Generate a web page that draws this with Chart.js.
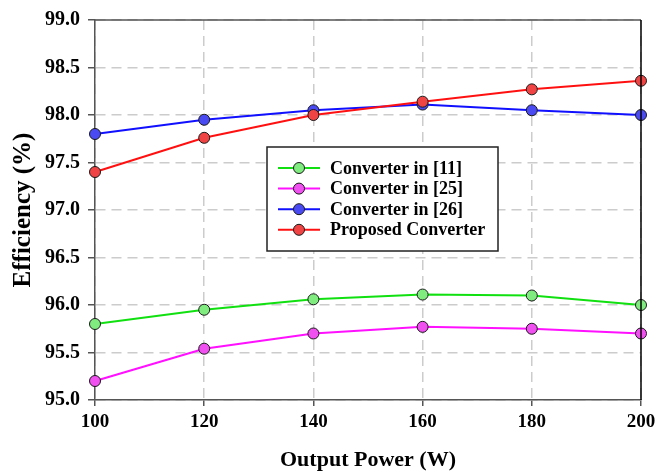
<!DOCTYPE html>
<html>
<head>
<meta charset="utf-8">
<script src="https://cdn.jsdelivr.net/npm/chart.js@4/dist/chart.umd.min.js"></script>
<style>
    html, body { margin: 0; padding: 0; background: #fff; }
    #wrap { width: 671px; height: 474px; }
</style>
</head>
<body>
<div id="wrap"><canvas id="eff-chart" width="671" height="474"></canvas></div>
<script>
// Efficiency vs output power

const outputPower = [100, 120, 140, 160, 180, 200];
const seriesNames = ['Converter in [11]', 'Converter in [25]', 'Converter in [26]', 'Proposed Converter'];
const conv11 = [95.80, 95.95, 96.06, 96.11, 96.10, 96.00];
const conv25 = [95.20, 95.54, 95.70, 95.77, 95.75, 95.70];
const conv26 = [97.80, 97.95, 98.05, 98.11, 98.05, 98.00];
const proposed = [97.40, 97.76, 98.00, 98.14, 98.27, 98.36];
const yTicks = [95.0, 95.5, 96.0, 96.5, 97.0, 97.5, 98.0, 98.5, 99.0];

const FONT = "'Liberation Serif', 'Times New Roman', serif";

const lineColors = ['#10e010', '#ff10ff', '#1010ff', '#ff1010'];
const markerColors = ['#80ec80', '#f050f0', '#4a4af2', '#f04444'];

function makeDataset(idx, values, order) {
    return {
        label: seriesNames[idx],
        data: outputPower.map((x, i) => ({ x: x, y: values[i] })),
        borderColor: lineColors[idx],
        backgroundColor: markerColors[idx],
        borderWidth: 2,
        pointRadius: 5.5,
        pointBorderColor: '#1a1a1a',
        pointBorderWidth: 1,
        pointBackgroundColor: markerColors[idx],
        tension: 0,
        clip: false,
        order: order
    };
}

// frame on top/right of the plot area
const framePlugin = {
    id: 'frame',
    afterDatasetsDraw(chart) {
        const { ctx, chartArea: a } = chart;
        ctx.save();
        ctx.lineWidth = 1.5;
        ctx.strokeStyle = '#555';
        ctx.beginPath();
        ctx.moveTo(a.left, a.top);
        ctx.lineTo(a.right, a.top);
        ctx.stroke();
        ctx.strokeStyle = '#000';
        ctx.beginPath();
        ctx.moveTo(a.right, a.top);
        ctx.lineTo(a.right, a.bottom);
        ctx.stroke();
        ctx.restore();
    }
};

// legend box drawn inside the plot
const boxLegend = {
    id: 'boxLegend',
    afterDraw(chart) {
        const ctx = chart.ctx;
        const left = 267, top = 147, w = 231, h = 104;
        ctx.save();
        ctx.fillStyle = '#fff';
        ctx.fillRect(left, top, w, h);
        ctx.lineWidth = 1.5;
        ctx.strokeStyle = '#222';
        ctx.strokeRect(left, top, w, h);
        ctx.font = 'bold 18px ' + FONT;
        ctx.textBaseline = 'middle';
        ctx.textAlign = 'left';
        seriesNames.forEach((name, i) => {
            const y = top + 21 + i * 20.6;
            ctx.strokeStyle = lineColors[i];
            ctx.lineWidth = 2;
            ctx.beginPath();
            ctx.moveTo(278, y);
            ctx.lineTo(320, y);
            ctx.stroke();
            ctx.beginPath();
            ctx.arc(299, y, 5.5, 0, Math.PI * 2);
            ctx.fillStyle = markerColors[i];
            ctx.fill();
            ctx.lineWidth = 1;
            ctx.strokeStyle = '#1a1a1a';
            ctx.stroke();
            ctx.fillStyle = '#000';
            ctx.fillText(name, 330, y + 1);
        });
        ctx.restore();
    }
};

const ctx = document.getElementById('eff-chart').getContext('2d');

new Chart(ctx, {
    type: 'line',
    data: {
        datasets: [
            makeDataset(0, conv11, 2),
            makeDataset(1, conv25, 2),
            makeDataset(2, conv26, 1),
            makeDataset(3, proposed, 0)
        ]
    },
    options: {
        responsive: false,
        animation: false,
        layout: {
            padding: { left: 0, right: 30, top: 18, bottom: 0 }
        },
        plugins: {
            legend: { display: false },
            tooltip: { enabled: false }
        },
        scales: {
            x: {
                type: 'linear',
                min: outputPower[0],
                max: outputPower[outputPower.length - 1],
                afterBuildTicks: function(scale) {
                    scale.ticks = outputPower.map(v => ({ value: v }));
                },
                afterFit: function(scale) {
                    scale.height = 74;
                },
                ticks: {
                    color: '#000',
                    padding: 5,
                    maxRotation: 0,
                    font: { family: FONT, size: 19, weight: 'bold' }
                },
                grid: {
                    color: '#cccccc',
                    lineWidth: 1.5,
                    tickLength: 6,
                    tickColor: '#555',
                    tickWidth: 1.5
                },
                border: {
                    color: '#555',
                    width: 1.5,
                    dash: [10, 6]
                },
                title: {
                    display: true,
                    text: 'Output Power (W)',
                    color: '#000',
                    padding: { top: 0, bottom: 0 },
                    font: { family: FONT, size: 22, weight: 'bold', lineHeight: 1.2 }
                }
            },
            y: {
                type: 'linear',
                min: yTicks[0],
                max: yTicks[yTicks.length - 1],
                afterBuildTicks: function(scale) {
                    scale.ticks = yTicks.map(v => ({ value: v }));
                },
                afterFit: function(scale) {
                    scale.width = 95;
                },
                ticks: {
                    color: '#000',
                    padding: 8,
                    font: { family: FONT, size: 20, weight: 'bold' },
                    callback: function(value) {
                        return Number(value).toFixed(1);
                    }
                },
                grid: {
                    color: '#cccccc',
                    lineWidth: 1.5,
                    tickLength: 7,
                    tickColor: '#555',
                    tickWidth: 1.5
                },
                border: {
                    color: '#555',
                    width: 1.5,
                    dash: [10, 6]
                },
                title: {
                    display: true,
                    text: 'Efficiency (%)',
                    color: '#000',
                    padding: { top: 9, bottom: 0 },
                    font: { family: FONT, size: 25, weight: 'bold', lineHeight: 1.2 }
                }
            }
        }
    },
    plugins: [framePlugin, boxLegend]
});
</script>
</body>
</html>
